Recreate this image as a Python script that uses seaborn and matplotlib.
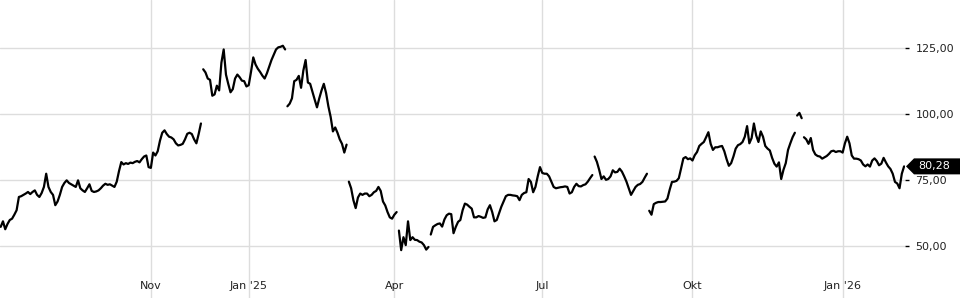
import numpy as np
import pandas as pd
import matplotlib
matplotlib.use("Agg")
import matplotlib.pyplot as plt
import matplotlib.transforms as mtransforms
from matplotlib.patches import Polygon
from matplotlib.ticker import FuncFormatter
import seaborn as sns

# ---------------- data ----------------
start_date = "2024-08-01"  # first trading day shown
prices = [
    57.4, 59.5, 56.5, 58.5, 60, 60.5, 62, 63.7, 68.7, 69,
    69.5, 70, 70.6, 69.8, 70.6, 71.2, 69.5, 68.7, 70.2, 72.5,
    77.5, 72.5, 70.6, 69.5, 65.6, 67, 69.5, 72.5, 74, 75,
    74, 73.5, 73, 72.5, 75, 72, 71.2, 70.6, 72, 73.5,
    71, 70.6, 70.8, 71.2, 72, 73, 73.7, 73.3, 73.5, 73,
    72.5, 74.5, 78.5, 81.9, 81, 81.5, 81.2, 81.7, 81.5, 82,
    82.3, 81.8, 83, 84, 84.4, 80, 79.7, 85.5, 84.4, 86,
    90, 93, 93.9, 92.5, 91.5, 91.2, 90.5, 89, 88.2, 88.4,
    88.8, 90.5, 92.6, 93, 92.5, 90.5, 89, 92.5, 96.5, 117,
    115.8, 113.5, 113, 107, 107.5, 110.8, 109, 119.5, 124.5, 115,
    111.5, 108.3, 109.5, 113.5, 115, 114, 112.7, 112.5, 110.5, 111,
    116, 121.5, 118.8, 117.2, 116, 114.6, 113.5, 115.5, 118, 120.5,
    122.5, 124.5, 125.3, 125.5, 125.9, 124.5, 103, 104, 106, 112.5,
    113, 114.5, 110, 116.5, 120.5, 112, 111.5, 108.5, 105.5, 102.6,
    106, 109, 111.5, 108, 103, 99, 93.5, 95, 93, 90.5,
    88.8, 85.5, 88.5, 74.5, 72, 67.5, 64.5, 68.5, 70, 69.5,
    70, 70, 69, 69.5, 70.5, 71, 72.5, 71, 67, 65.5,
    63, 61, 60.5, 62, 63, 56, 48.6, 53.5, 50.5, 59.5,
    52.4, 53.5, 52.5, 52.4, 51.8, 51.5, 50.5, 48.8, 49.8, 54.5,
    57.4, 58, 58.5, 58.7, 57.5, 60.2, 61.8, 62.4, 62.2, 55,
    57.4, 59.3, 60, 63.7, 66.2, 65.8, 65, 64.3, 61, 61,
    61.5, 61.2, 60.8, 61, 64, 65.6, 63, 59.5, 60, 62.5,
    65, 67, 69, 69.5, 69.5, 69.3, 69.2, 69, 67.5, 69.5,
    70.2, 70.5, 75.5, 74.4, 70.5, 72.5, 76.5, 80, 77.8, 77.5,
    77.5, 76.5, 74.5, 72.5, 72, 72.2, 72.4, 72.5, 72.7, 72.5,
    70, 70.5, 72.5, 73.7, 72.8, 72.7, 73.2, 73.5, 74.5, 75.8,
    77, 84, 82, 79, 75.5, 76.5, 75.2, 75.5, 76.5, 78.8,
    78, 78.2, 79.4, 78.3, 76.5, 74.5, 72, 69.5, 71, 72.5,
    73.3, 73.6, 74.4, 76, 77.5, 63.5, 62, 66, 66.5, 66.8,
    66.8, 66.9, 67, 68.1, 71.5, 74.4, 74.5, 74.8, 75.8, 79.5,
    83.3, 83.8, 83, 83.3, 82.5, 84.5, 85.7, 88, 88.8, 89.5,
    91.3, 93.2, 88.8, 86.5, 87.5, 87.5, 87.8, 88, 86, 83,
    80.5, 81.5, 84, 87, 88.3, 88.7, 89.5, 91.5, 95.5, 89,
    91, 96.5, 92, 89.5, 93.5, 91.5, 88, 87, 86.3, 83.5,
    81.3, 80.2, 81.8, 75.5, 79, 81.5, 86.5, 89, 91.3, 93,
    99.5, 100.5, 98.5, 91.3, 90.5, 88.8, 91, 86.5, 84.8, 84.2,
    84, 83.2, 83.7, 84.2, 85, 86, 86.2, 85.7, 86, 86,
    85.5, 89, 91.5, 89, 84.4, 83.2, 83.2, 83, 82.5, 81,
    80.3, 81, 80.2, 82.5, 83.3, 82.3, 80.7, 81.3, 83.5, 81.8,
    80.3, 79.3, 77.5, 74.4, 73.8, 72, 77.5, 80.28,
]
# trading-day positions where a price gap starts a new, unconnected stretch
segment_starts = [89, 126, 153, 175, 189, 261, 285, 350, 353]

tick_months = ["2024-11-01", "2025-01-01", "2025-04-01", "2025-07-01", "2025-10-01", "2026-01-01"]
tick_labels = ["Nov", "Jan '25", "Apr", "Jul", "Okt", "Jan '26"]
y_ticks = [50, 75, 100, 125]
last_label = "80,28"

# ---------------- frame ----------------
dates = pd.bdate_range(start_date, periods=len(prices))
df = pd.DataFrame({"date": dates, "price": prices})
df["session"] = np.arange(len(df))
df["seg"] = np.searchsorted(segment_starts, df["session"].to_numpy(), side="right")

sns.set_theme(style="white")
plt.rcParams["font.family"] = ["DejaVu Sans"]

W, H = 960, 300
fig = plt.figure(figsize=(W / 100, H / 100), dpi=100)
ax = fig.add_axes([0, 2 / H, 905 / W, 298 / H])

sns.lineplot(data=df, x="session", y="price", units="seg", estimator=None,
             color="black", linewidth=1.6, ax=ax, legend=False)

tick_pos = [int(dates.searchsorted(pd.Timestamp(m))) for m in tick_months]
ax.set_xticks(tick_pos)
ax.set_xticklabels(tick_labels)
ax.set_xlim(-0.3, len(prices) - 0.6)
ax.set_ylim(30.5, 143.2)

ax.yaxis.tick_right()
ax.set_yticks(y_ticks)
ax.yaxis.set_major_formatter(FuncFormatter(lambda v, p: f"{v:.2f}".replace(".", ",")))
ax.grid(True, color="#dddddd", linewidth=1)
ax.set_axisbelow(True)
for s in ax.spines.values():
    s.set_visible(False)
ax.tick_params(axis="y", direction="out", length=3, width=1, color="black",
               pad=4.5, labelsize=8, labelcolor="#222222")
ax.tick_params(axis="x", direction="in", length=3, width=1, color="black",
               pad=-12, labelsize=8, labelcolor="#222222")
ax.set_xlabel("")
ax.set_ylabel("")

# last-price marker on the right axis
fig.canvas.draw()
yc = ax.transData.transform((0, prices[-1]))[1]
xr = ax.transAxes.transform((1, 0))[0]
tip = xr + 1
hh = 8
poly = Polygon([(tip, yc), (tip + 8, yc + hh), (W, yc + hh), (W, yc - hh), (tip + 8, yc - hh)],
               closed=True, transform=mtransforms.IdentityTransform(),
               facecolor="black", edgecolor="none", clip_on=False, zorder=5)
fig.add_artist(poly)
fig.text((tip + 12) / W, yc / H, last_label, color="white", fontsize=8,
         ha="left", va="center", zorder=6)

fig.savefig("out.png", dpi=100)
